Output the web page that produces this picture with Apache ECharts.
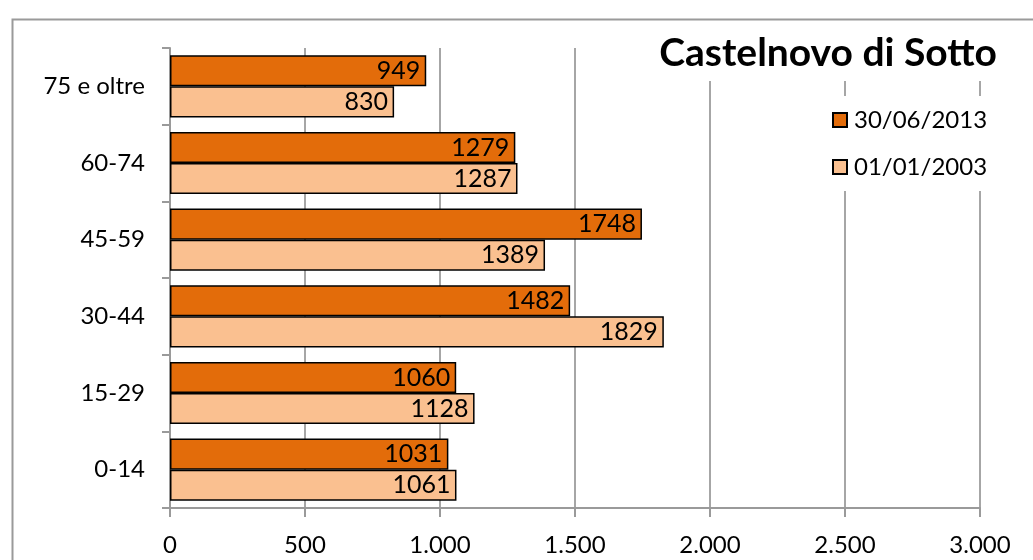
<!DOCTYPE html>
<html>
<head>
<meta charset="utf-8">
<script src="https://cdn.jsdelivr.net/npm/echarts@6/dist/echarts.min.js"></script>
<style>
html,body{margin:0;padding:0;background:#fff;}
#chart{width:1033px;height:560px;}
</style>
</head>
<body>
<div id="chart"></div>
<script>
const categories = ['0-14', '15-29', '30-44', '45-59', '60-74', '75 e oltre'];
const seriesNames = ['30/06/2013', '01/01/2003'];
const values2013 = [1031, 1060, 1482, 1748, 1279, 949];
const values2003 = [1061, 1128, 1829, 1389, 1287, 830];
const xTicks = [0, 500, 1000, 1500, 2000, 2500, 3000];
const titleText = 'Castelnovo di Sotto';

const FONT = 'Lato';
const chart = echarts.init(document.getElementById('chart'), null, {renderer: 'canvas'});

function fmtThousands(v) {
  return String(v).replace(/\B(?=(\d{3})+(?!\d))/g, '.');
}

const option = {
  backgroundColor: '#fff',
  animation: false,
  textStyle: {fontFamily: FONT},
  graphic: [{
    type: 'rect',
    left: 10, top: 17,
    shape: {width: 1100, height: 600},
    style: {fill: 'none', stroke: '#9a9a9a', lineWidth: 2},
    z: -10
  }],
  title: {
    text: titleText,
    right: 28,
    top: 26,
    padding: [8, 8, 8, 10],
    backgroundColor: '#fff',
    textStyle: {fontFamily: FONT, fontWeight: 'bold', fontSize: 39, color: '#000'}
  },
  legend: {
    orient: 'vertical',
    left: 822,
    top: 96,
    padding: [12, 10, 12, 10],
    backgroundColor: '#fff',
    itemWidth: 14,
    itemHeight: 14,
    itemGap: 23,
    icon: 'rect',
    data: seriesNames,
    textStyle: {fontFamily: FONT, fontSize: 24, color: '#000', padding: [0, 0, 0, 2]}
  },
  grid: {left: 170, right: 53, top: 48, bottom: 52, containLabel: false},
  xAxis: {
    type: 'value',
    min: xTicks[0],
    max: xTicks[xTicks.length - 1],
    interval: xTicks[1] - xTicks[0],
    axisLine: {show: true, lineStyle: {color: '#9a9a9a', width: 2}},
    axisTick: {show: true, length: 9, lineStyle: {color: '#9a9a9a', width: 2}},
    splitLine: {show: true, lineStyle: {color: '#a6a6a6', width: 2}},
    axisLabel: {
      margin: 25,
      fontFamily: FONT, fontSize: 24, color: '#000',
      formatter: fmtThousands
    }
  },
  yAxis: {
    type: 'category',
    data: categories,
    axisLine: {show: true, lineStyle: {color: '#9a9a9a', width: 2}},
    axisTick: {show: true, length: 8, alignWithLabel: false, lineStyle: {color: '#9a9a9a', width: 2}},
    splitLine: {show: false},
    axisLabel: {margin: 25, fontFamily: FONT, fontSize: 24, color: '#000'}
  },
  series: [
    {
      name: seriesNames[0],
      type: 'bar',
      data: values2013,
      barGap: '0%',
      barCategoryGap: '19%',
      itemStyle: {color: '#E36C0A', borderColor: '#000', borderWidth: 1.5},
      label: {
        show: true, position: 'insideRight', distance: 6,
        fontFamily: FONT, fontSize: 25, color: '#000'
      }
    },
    {
      name: seriesNames[1],
      type: 'bar',
      data: values2003,
      barGap: '0%',
      barCategoryGap: '19%',
      itemStyle: {color: '#FAC090', borderColor: '#000', borderWidth: 1.5},
      label: {
        show: true, position: 'insideRight', distance: 6,
        fontFamily: FONT, fontSize: 25, color: '#000'
      }
    }
  ]
};
chart.setOption(option);
</script>
</body>
</html>
